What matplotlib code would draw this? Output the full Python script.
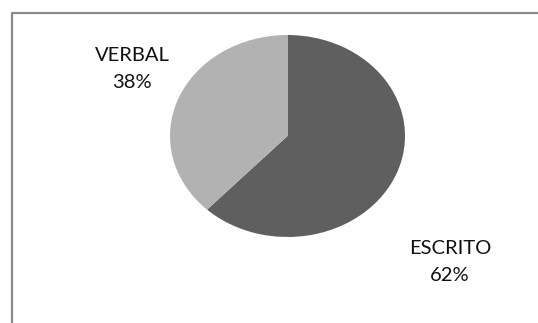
import matplotlib.pyplot as plt
from matplotlib.lines import Line2D

# Share of communication type
labels = ['ESCRITO', 'VERBAL']
shares = [62, 38]
colors = ['#5f5f5f', '#b2b2b2']

W, H = 538, 323
fig = plt.figure(figsize=(W / 100, H / 100), dpi=100)
plt.rcParams['font.family'] = ['Lato', 'DejaVu Sans']

# pie sits in an axes stretched to an ellipse
left, right, top, bottom = 170, 405, 35, 237
ax = fig.add_axes([left / W, (H - bottom) / H, (right - left) / W, (bottom - top) / H])
ax.pie(shares, colors=colors, startangle=90, counterclock=False,
       wedgeprops=dict(linewidth=0))
ax.set_aspect('auto')
ax.set_xlim(-1, 1)
ax.set_ylim(-1, 1)
ax.axis('off')

# label positions in pixels (centre of each text block)
label_pos = {'ESCRITO': (450, 262), 'VERBAL': (132, 69)}
for name, val in zip(labels, shares):
    px, py = label_pos[name]
    fig.text(px / W, 1 - py / H, f'{name}\n{val}%', ha='center', va='center',
             fontsize=14.5, linespacing=1.75, color='#111111')

# chart area frame (top and left edges visible)
fx, fy = 11.5 / W, 1 - 12.5 / H
fig.add_artist(Line2D([fx, fx, 1.01], [-0.01, fy, fy], transform=fig.transFigure,
                      color='#8a8a8a', linewidth=1.6))

fig.savefig('out.png', dpi=100, facecolor='white')
